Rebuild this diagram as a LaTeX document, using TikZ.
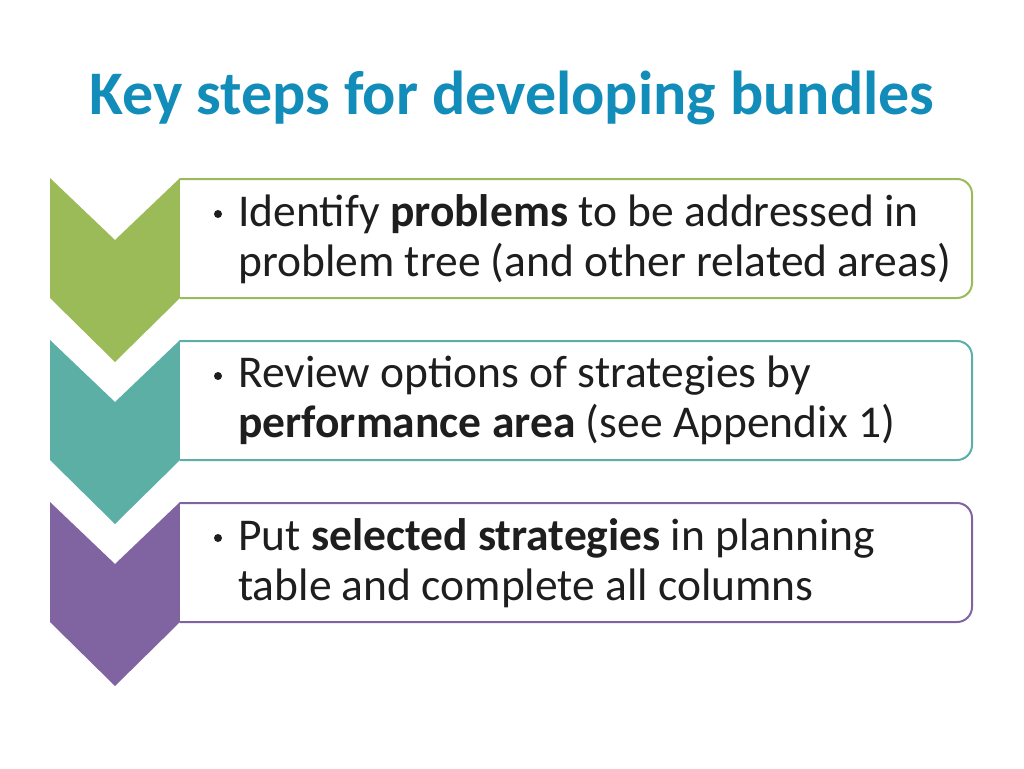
\documentclass[tikz,border=0pt]{standalone}
\usepackage{fontspec}
\setmainfont{Carlito}
\definecolor{ttl}{RGB}{18,140,184}
\definecolor{cgreen}{RGB}{155,187,89}
\definecolor{cteal}{RGB}{91,175,164}
\definecolor{cpurple}{RGB}{128,100,162}
\definecolor{txt}{RGB}{30,30,30}
\begin{document}
\begin{tikzpicture}[x=1pt,y=-1pt,
  chev/.style={fill=#1,draw=none},
  card/.style={draw=#1,line width=2pt,fill=white},
  body/.style={anchor=north west,align=left,inner sep=0pt,text=txt,font=\fontsize{45.5}{50}\selectfont},
  bul/.style={circle,fill=txt,inner sep=0pt,minimum size=8pt}]
\useasboundingbox (0,0) rectangle (1024,768);
\node[text=ttl,font=\fontsize{62}{70}\selectfont\bfseries] (title) at (512,98) {Key steps for developing bundles};
\foreach \t/\c/\n in {178/cgreen/a,340/cteal/b,502/cpurple/c}{
  \fill[chev=\c] (50,\t) -- (115,\t+62) -- (180,\t) -- (180,\t+120) -- (115,\t+184) -- (50,\t+120) -- cycle;
  \draw[card=\c,rounded corners=15pt] (180,\t+1) -- (972,\t+1) -- (972,\t+120) -- (180,\t+120);
}
\node[bul] (b1) at (218,214) {};
\node[body] (t1) at (238,194) {Identify \textbf{problems} to be addressed in\\problem tree (and other related areas)};
\node[bul] (b2) at (218,376) {};
\node[body] (t2) at (238,356) {Review options of strategies by\\\textbf{performance area} (see Appendix 1)};
\node[bul] (b3) at (218,538) {};
\node[body] (t3) at (238,518) {Put \textbf{selected strategies} in planning\\table and complete all columns};
\end{tikzpicture}
\end{document}
